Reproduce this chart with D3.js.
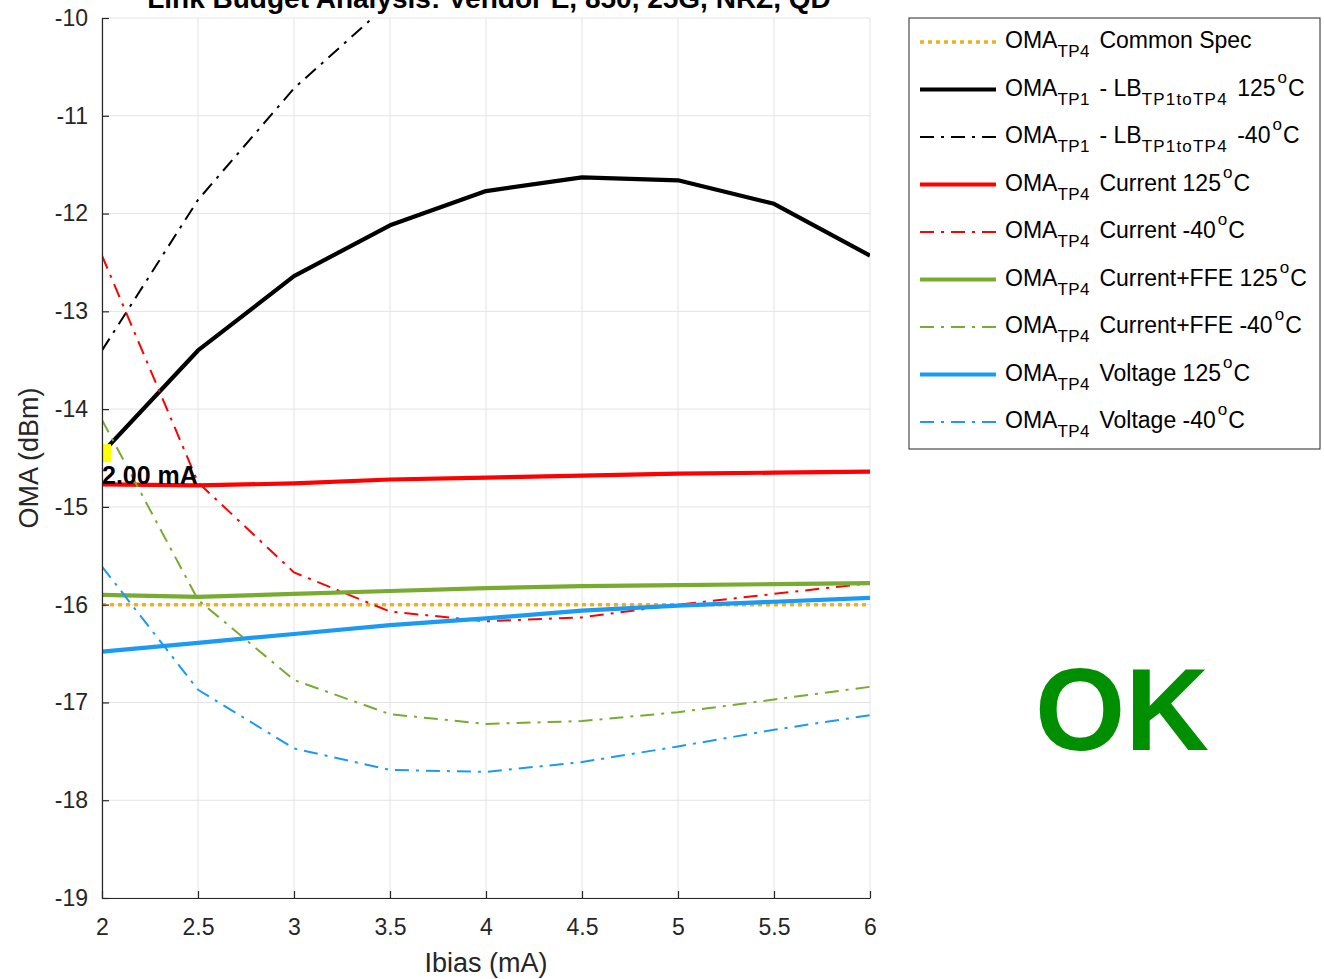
<!DOCTYPE html>
<html>
<head>
<meta charset="utf-8">
<script src="https://cdn.jsdelivr.net/npm/d3@7"></script>
<style>
body{margin:0;background:#fff;}
text{font-family:"Liberation Sans",Arial,sans-serif;}
</style>
</head>
<body>
<svg id="chart" width="1324" height="979"></svg>
<script>
// values
var ibias = [2, 2.5, 3, 3.5, 4, 4.5, 5, 5.5, 6];
var xTicks = [2, 2.5, 3, 3.5, 4, 4.5, 5, 5.5, 6];
var yTicks = [-19, -18, -17, -16, -15, -14, -13, -12, -11, -10];

var specVals   = [-16, -16, -16, -16, -16, -16, -16, -16, -16];
var lbHot      = [-14.45, -13.40, -12.64, -12.12, -11.77, -11.63, -11.66, -11.90, -12.43];
var lbColdX    = [2, 2.5, 3, 3.5];
var lbCold     = [-13.40, -11.86, -10.72, -9.84];
var curHot     = [-14.77, -14.78, -14.76, -14.72, -14.70, -14.68, -14.66, -14.65, -14.64];
var curCold    = [-12.43, -14.75, -15.67, -16.07, -16.17, -16.13, -16.00, -15.89, -15.78];
var ffeHot     = [-15.90, -15.92, -15.89, -15.86, -15.83, -15.81, -15.80, -15.79, -15.78];
var ffeCold    = [-14.11, -15.95, -16.77, -17.12, -17.22, -17.19, -17.10, -16.97, -16.84];
var voltHot    = [-16.48, -16.39, -16.30, -16.21, -16.14, -16.06, -16.01, -15.97, -15.93];
var voltCold   = [-15.61, -16.87, -17.47, -17.69, -17.71, -17.61, -17.45, -17.28, -17.13];

var markerX = 2, markerY = -14.45, markerLabel = "2.00 mA";

var svg = d3.select('#chart');
var margin = {left:102, top:18, right:454, bottom:81};
var width = 1324, height = 979;
var innerwidth = width - margin.left - margin.right;
var innerheight = height - margin.top - margin.bottom;

var xscale = d3.scaleLinear().domain([2, 6]).range([0, innerwidth]);
var yscale = d3.scaleLinear().domain([-19, -10]).range([innerheight, 0]);

var g = svg.append('g').attr('transform', `translate(${margin.left},${margin.top})`);

svg.append('defs').append('clipPath').attr('id', 'clip')
  .append('rect').attr('width', innerwidth).attr('height', innerheight);

// grid
g.append('g').selectAll('line').data(xTicks).enter().append('line')
  .attr('x1', d => xscale(d)).attr('x2', d => xscale(d))
  .attr('y1', 0).attr('y2', innerheight)
  .attr('stroke', '#e3e3e3').attr('stroke-width', 1);
g.append('g').selectAll('line').data(yTicks).enter().append('line')
  .attr('y1', d => yscale(d)).attr('y2', d => yscale(d))
  .attr('x1', 0).attr('x2', innerwidth)
  .attr('stroke', '#e3e3e3').attr('stroke-width', 1);

var dashdot = '14,7,3,7';
var series = [
  {x: ibias, y: specVals, color: '#EDB120', w: 3.5, dash: '4,4'},
  {x: ibias, y: lbHot, color: '#000000', w: 4.2, dash: null},
  {x: lbColdX, y: lbCold, color: '#000000', w: 2, dash: dashdot},
  {x: ibias, y: curHot, color: '#FF0000', w: 4.2, dash: null},
  {x: ibias, y: curCold, color: '#FF0000', w: 2, dash: dashdot},
  {x: ibias, y: ffeHot, color: '#77AC30', w: 4.2, dash: null},
  {x: ibias, y: ffeCold, color: '#77AC30', w: 2, dash: dashdot},
  {x: ibias, y: voltHot, color: '#1A9AF2', w: 4.2, dash: null},
  {x: ibias, y: voltCold, color: '#1A9AF2', w: 2, dash: dashdot}
];

var line = d3.line().x(d => xscale(d[0])).y(d => yscale(d[1]));
var plot = g.append('g').attr('clip-path', 'url(#clip)');
series.forEach(function(s){
  plot.append('path')
    .attr('d', line(s.x.map((v, i) => [v, s.y[i]])))
    .attr('fill', 'none')
    .attr('stroke', s.color)
    .attr('stroke-width', s.w)
    .attr('stroke-dasharray', s.dash)
    .attr('stroke-linejoin', 'round');
});

// marker
plot.append('rect')
  .attr('x', xscale(markerX) - 9).attr('y', yscale(markerY) - 9)
  .attr('width', 18).attr('height', 18)
  .attr('fill', '#FFFF00');
g.append('text')
  .attr('x', xscale(markerX)).attr('y', yscale(markerY) + 31)
  .attr('font-size', 25).attr('font-weight', 'bold').attr('fill', '#000')
  .text(markerLabel);

// axes
var xAxis = d3.axisBottom(xscale).tickValues(xTicks).tickSizeInner(-7).tickSizeOuter(0).tickPadding(21)
  .tickFormat(d3.format('~g'));
var yAxis = d3.axisLeft(yscale).tickValues(yTicks).tickSizeInner(-7).tickSizeOuter(0).tickPadding(14)
  .tickFormat(d => d3.format('~g')(d).replace('−', '-'));

var xa = g.append('g').attr('transform', `translate(0,${innerheight})`).call(xAxis);
var ya = g.append('g').call(yAxis);
[xa, ya].forEach(function(a){
  a.select('.domain').attr('stroke', '#262626').attr('stroke-width', 1.2);
  a.selectAll('.tick line').attr('stroke', '#262626').attr('stroke-width', 1.2);
  a.selectAll('.tick text').attr('font-size', 23).attr('fill', '#262626')
    .attr('font-family', '"Liberation Sans", Arial, sans-serif');
});
xa.selectAll('.tick text').attr('dy', '0.71em');

// labels
svg.append('text').attr('x', margin.left + innerwidth / 2).attr('y', 972)
  .attr('text-anchor', 'middle').attr('font-size', 27).attr('fill', '#262626')
  .text('Ibias (mA)');
svg.append('text').attr('transform', `translate(38,${margin.top + innerheight / 2}) rotate(-90)`)
  .attr('text-anchor', 'middle').attr('font-size', 27).attr('fill', '#262626')
  .text('OMA (dBm)');
svg.append('text').attr('x', margin.left + innerwidth / 2 + 3).attr('y', 8)
  .attr('text-anchor', 'middle').attr('font-size', 28).attr('font-weight', 'bold').attr('fill', '#000')
  .text('Link Budget Analysis: Vendor E, 850, 25G, NRZ, QD');

// legend
var legendItems = [
  [['OMA', 'n'], ['TP4', 'sub'], [' Common Spec', 'n']],
  [['OMA', 'n'], ['TP1', 'sub'], [' - LB', 'n'], ['TP1toTP4', 'sub'], [' 125', 'n'], ['o', 'sup'], ['C', 'n']],
  [['OMA', 'n'], ['TP1', 'sub'], [' - LB', 'n'], ['TP1toTP4', 'sub'], [' -40', 'n'], ['o', 'sup'], ['C', 'n']],
  [['OMA', 'n'], ['TP4', 'sub'], [' Current 125', 'n'], ['o', 'sup'], ['C', 'n']],
  [['OMA', 'n'], ['TP4', 'sub'], [' Current -40', 'n'], ['o', 'sup'], ['C', 'n']],
  [['OMA', 'n'], ['TP4', 'sub'], [' Current+FFE 125', 'n'], ['o', 'sup'], ['C', 'n']],
  [['OMA', 'n'], ['TP4', 'sub'], [' Current+FFE -40', 'n'], ['o', 'sup'], ['C', 'n']],
  [['OMA', 'n'], ['TP4', 'sub'], [' Voltage 125', 'n'], ['o', 'sup'], ['C', 'n']],
  [['OMA', 'n'], ['TP4', 'sub'], [' Voltage -40', 'n'], ['o', 'sup'], ['C', 'n']]
];
var shift = {n: 0, sub: 9, sup: -13};

var lg = svg.append('g').attr('transform', 'translate(909,18)');
lg.append('rect').attr('width', 411).attr('height', 431)
  .attr('fill', '#fff').attr('stroke', '#262626').attr('stroke-width', 1);
var rowY = d3.scaleLinear().domain([0, 8]).range([30, 410]);
series.forEach(function(s, i){
  var y = rowY(i);
  lg.append('line').attr('x1', 11).attr('x2', 87).attr('y1', y - 6).attr('y2', y - 6)
    .attr('stroke', s.color).attr('stroke-width', s.w).attr('stroke-dasharray', s.dash);
  var t = lg.append('text').attr('x', 96).attr('y', y).attr('font-size', 23).attr('fill', '#000')
    .attr('xml:space', 'preserve');
  var cur = 0;
  legendItems[i].forEach(function(p, k){
    var target = shift[p[1]];
    var ts = t.append('tspan').attr('dy', target - cur).text(p[0]);
    cur = target;
    if (p[1] === 'sub') ts.attr('font-size', 17).attr('letter-spacing', p[0].length > 3 ? 1.2 : 0.5);
    if (p[1] === 'sup') ts.attr('font-size', 17).attr('dx', 2);
    if (p[1] === 'n' && k > 0 && legendItems[i][k - 1][1] === 'sub') ts.attr('dx', 3);
    if (p[1] === 'n' && k > 0 && legendItems[i][k - 1][1] === 'sup') ts.attr('dx', 1);
  });
});

// status
svg.append('text').attr('x', 1122).attr('y', 750).attr('text-anchor', 'middle')
  .attr('font-size', 116).attr('font-weight', 'bold').attr('fill', '#008F00')
  .text('OK');
</script>
</body>
</html>
